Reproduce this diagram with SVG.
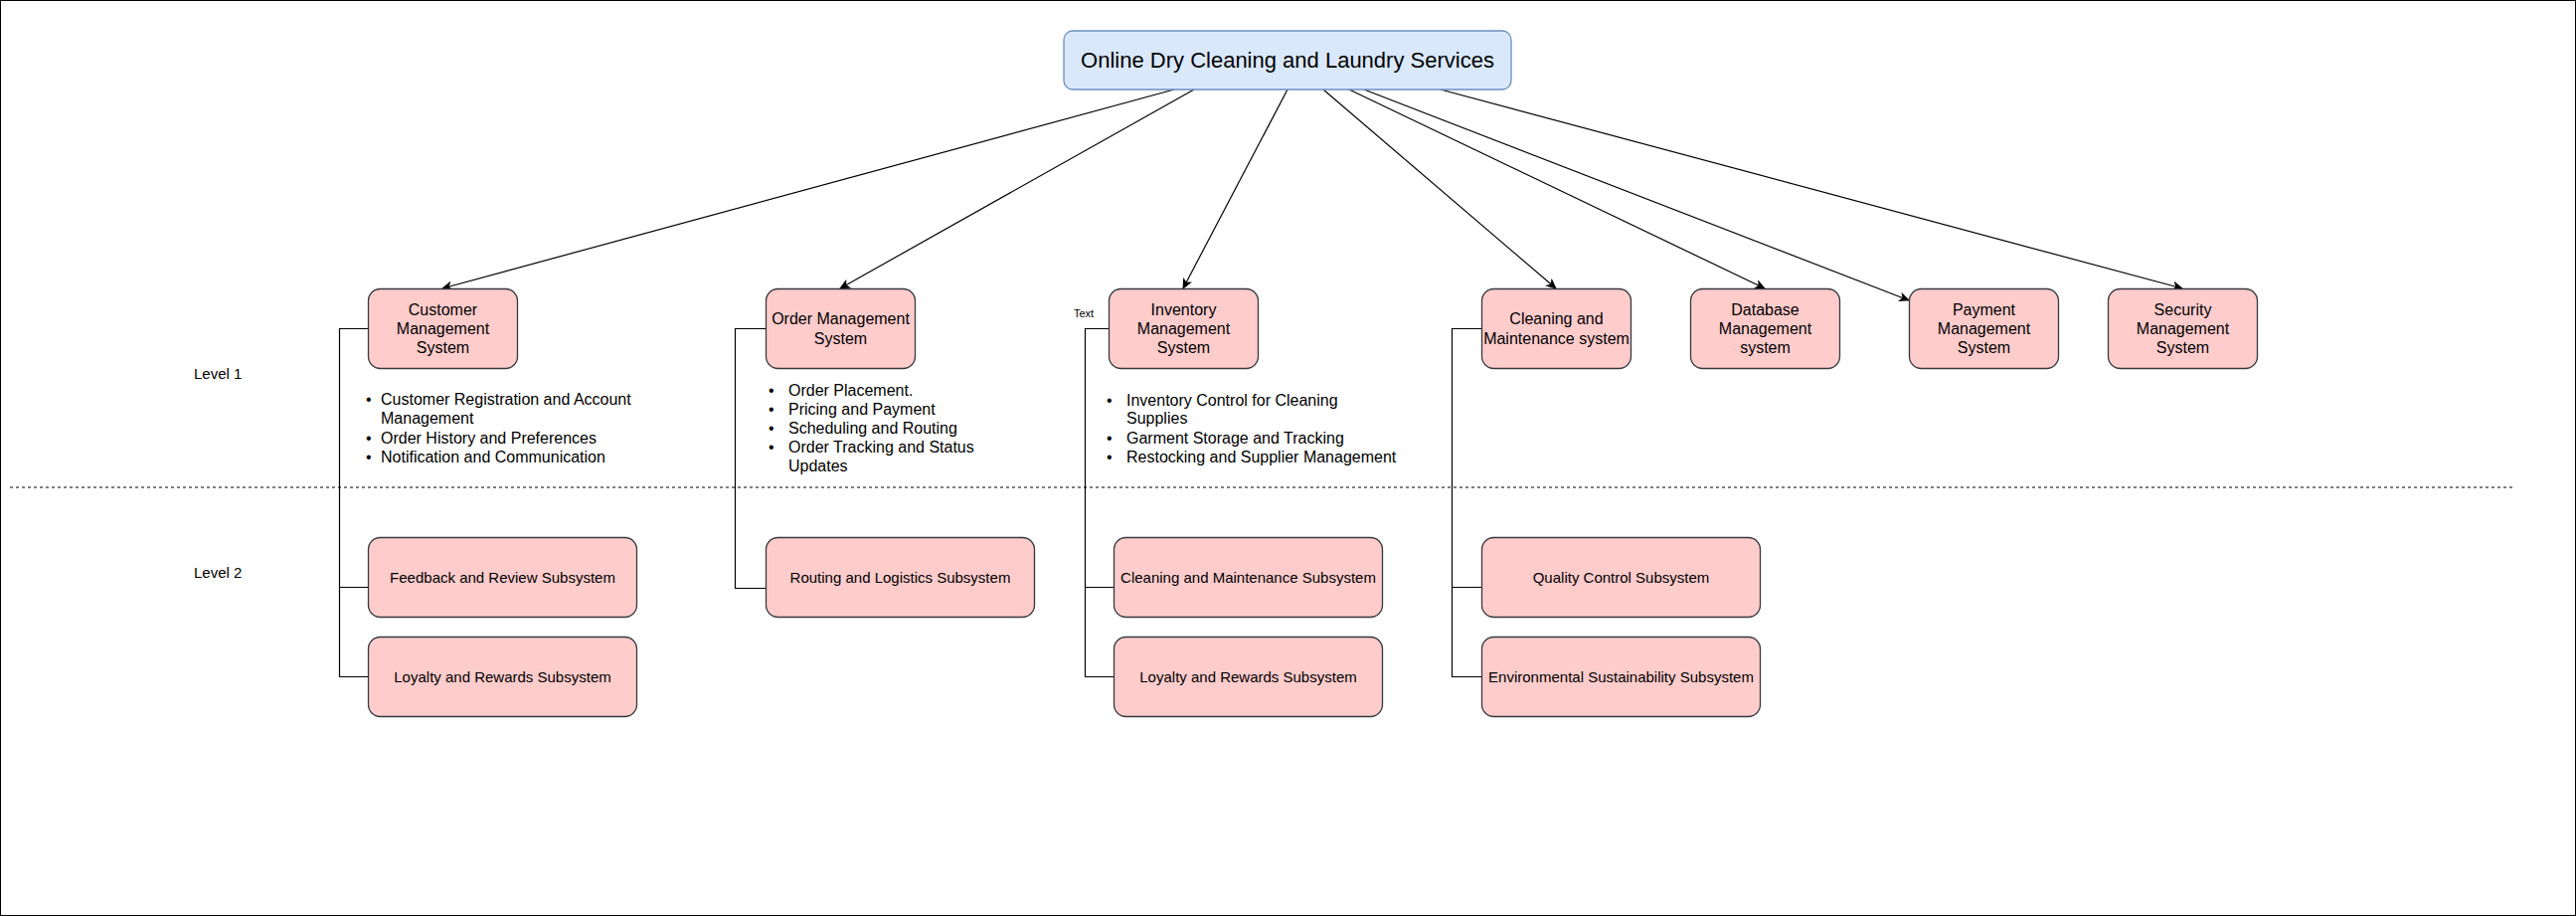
<svg xmlns="http://www.w3.org/2000/svg" width="2591" height="921" viewBox="0 0 2591 921">
<style>
text{font-family:"Liberation Sans",Arial,sans-serif;fill:#000}
.top{fill:#dae8fc;stroke:#6c8ebf;stroke-width:1.3}
.n{fill:#ffcccc;stroke:#36393d;stroke-width:1.3}
.l1{font-size:16px;text-anchor:middle}
.l2{font-size:15px;text-anchor:middle}
.b{font-size:16px}
.lv{font-size:15px}
.e{fill:none;stroke:#000;stroke-width:1.2}
.a{fill:none;stroke:#000;stroke-width:1.2;marker-end:url(#arr)}
</style>
<defs>
<marker id="arr" markerWidth="12" markerHeight="10" refX="10" refY="5" orient="auto" markerUnits="userSpaceOnUse">
<path d="M0,0 L11,5 L0,10 L3,5 Z" fill="#000"/>
</marker>
</defs>
<rect x="0.5" y="0.5" width="2590" height="920" fill="#fff" stroke="#000" stroke-width="1"/>
<line x1="10" y1="490" x2="2528" y2="490" stroke="#000" stroke-width="1" stroke-dasharray="3 3"/>
<text class="lv" x="195" y="381">Level 1</text>
<text class="lv" x="195" y="581">Level 2</text>
<text x="1080" y="319" style="font-size:11px">Text</text>

<g id="connectors">
<path class="a" d="M1181,90 L445,290"/>
<path class="a" d="M1201,90 L845,290"/>
<path class="a" d="M1295,90 L1190,290"/>
<path class="a" d="M1331,90 L1565,290"/>
<path class="a" d="M1357,90 L1775,290"/>
<path class="a" d="M1372,90 L1920,302"/>
<path class="a" d="M1449,90 L2195,290"/>
<path class="e" d="M370,330.5 H341.5 V680.5 H370 M341.5,590.5 H370"/>
<path class="e" d="M770,330.5 H739.5 V591.5 H770"/>
<path class="e" d="M1115,330.5 H1091.5 V680.5 H1120 M1091.5,590.5 H1120"/>
<path class="e" d="M1490,330.5 H1460.5 V680.5 H1490 M1460.5,590.5 H1490"/>
</g>

<g id="root">
<rect class="top" x="1070" y="31" width="450" height="59" rx="9"/>
<text x="1295" y="67.5" style="font-size:22px;text-anchor:middle">Online Dry Cleaning and Laundry Services</text>
</g>

<g id="customer">
<rect class="n" x="370.5" y="290.5" width="150" height="80" rx="12"/>
<text class="l1" x="445.5" y="317">Customer</text>
<text class="l1" x="445.5" y="336">Management</text>
<text class="l1" x="445.5" y="355">System</text>
</g>
<g id="customer-list">
<text class="b" x="368" y="407">•</text><text class="b" x="383" y="407">Customer Registration and Account</text>
<text class="b" x="383" y="426">Management</text>
<text class="b" x="368" y="445.5">•</text><text class="b" x="383" y="445.5">Order History and Preferences</text>
<text class="b" x="368" y="464.5">•</text><text class="b" x="383" y="464.5">Notification and Communication</text>
</g>

<g id="order">
<rect class="n" x="770.5" y="290.5" width="150" height="80" rx="12"/>
<text class="l1" x="845.5" y="326">Order Management</text>
<text class="l1" x="845.5" y="345.5">System</text>
</g>
<g id="order-list">
<text class="b" x="773" y="398">•</text><text class="b" x="793" y="398">Order Placement.</text>
<text class="b" x="773" y="417">•</text><text class="b" x="793" y="417">Pricing and Payment</text>
<text class="b" x="773" y="436">•</text><text class="b" x="793" y="436">Scheduling and Routing</text>
<text class="b" x="773" y="455">•</text><text class="b" x="793" y="455">Order Tracking and Status</text>
<text class="b" x="793" y="474">Updates</text>
</g>

<g id="inventory">
<rect class="n" x="1115.5" y="290.5" width="150" height="80" rx="12"/>
<text class="l1" x="1190.5" y="317">Inventory</text>
<text class="l1" x="1190.5" y="336">Management</text>
<text class="l1" x="1190.5" y="355">System</text>
</g>
<g id="inventory-list">
<text class="b" x="1113" y="407.5">•</text><text class="b" x="1133" y="407.5">Inventory Control for Cleaning</text>
<text class="b" x="1133" y="426">Supplies</text>
<text class="b" x="1113" y="445.5">•</text><text class="b" x="1133" y="445.5">Garment Storage and Tracking</text>
<text class="b" x="1113" y="465">•</text><text class="b" x="1133" y="465">Restocking and Supplier Management</text>
</g>

<g id="cleaning">
<rect class="n" x="1490.5" y="290.5" width="150" height="80" rx="12"/>
<text class="l1" x="1565.5" y="326">Cleaning and</text>
<text class="l1" x="1565.5" y="345.5">Maintenance system</text>
</g>
<g id="database">
<rect class="n" x="1700.5" y="290.5" width="150" height="80" rx="12"/>
<text class="l1" x="1775.5" y="317">Database</text>
<text class="l1" x="1775.5" y="336">Management</text>
<text class="l1" x="1775.5" y="355">system</text>
</g>
<g id="payment">
<rect class="n" x="1920.5" y="290.5" width="150" height="80" rx="12"/>
<text class="l1" x="1995.5" y="317">Payment</text>
<text class="l1" x="1995.5" y="336">Management</text>
<text class="l1" x="1995.5" y="355">System</text>
</g>
<g id="security">
<rect class="n" x="2120.5" y="290.5" width="150" height="80" rx="12"/>
<text class="l1" x="2195.5" y="317">Security</text>
<text class="l1" x="2195.5" y="336">Management</text>
<text class="l1" x="2195.5" y="355">System</text>
</g>

<g id="feedback">
<rect class="n" x="370.5" y="540.5" width="270" height="80" rx="12"/>
<text class="l2" x="505.5" y="586">Feedback and Review Subsystem</text>
</g>
<g id="loyalty1">
<rect class="n" x="370.5" y="640.5" width="270" height="80" rx="12"/>
<text class="l2" x="505.5" y="686">Loyalty and Rewards Subsystem</text>
</g>
<g id="routing">
<rect class="n" x="770.5" y="540.5" width="270" height="80" rx="12"/>
<text class="l2" x="905.5" y="586">Routing and Logistics Subsystem</text>
</g>
<g id="cleaning-sub">
<rect class="n" x="1120.5" y="540.5" width="270" height="80" rx="12"/>
<text class="l2" x="1255.5" y="586">Cleaning and Maintenance Subsystem</text>
</g>
<g id="loyalty2">
<rect class="n" x="1120.5" y="640.5" width="270" height="80" rx="12"/>
<text class="l2" x="1255.5" y="686">Loyalty and Rewards Subsystem</text>
</g>
<g id="quality">
<rect class="n" x="1490.5" y="540.5" width="280" height="80" rx="12"/>
<text class="l2" x="1630.5" y="586">Quality Control Subsystem</text>
</g>
<g id="environmental">
<rect class="n" x="1490.5" y="640.5" width="280" height="80" rx="12"/>
<text class="l2" x="1630.5" y="686">Environmental Sustainability Subsystem</text>
</g>
</svg>
